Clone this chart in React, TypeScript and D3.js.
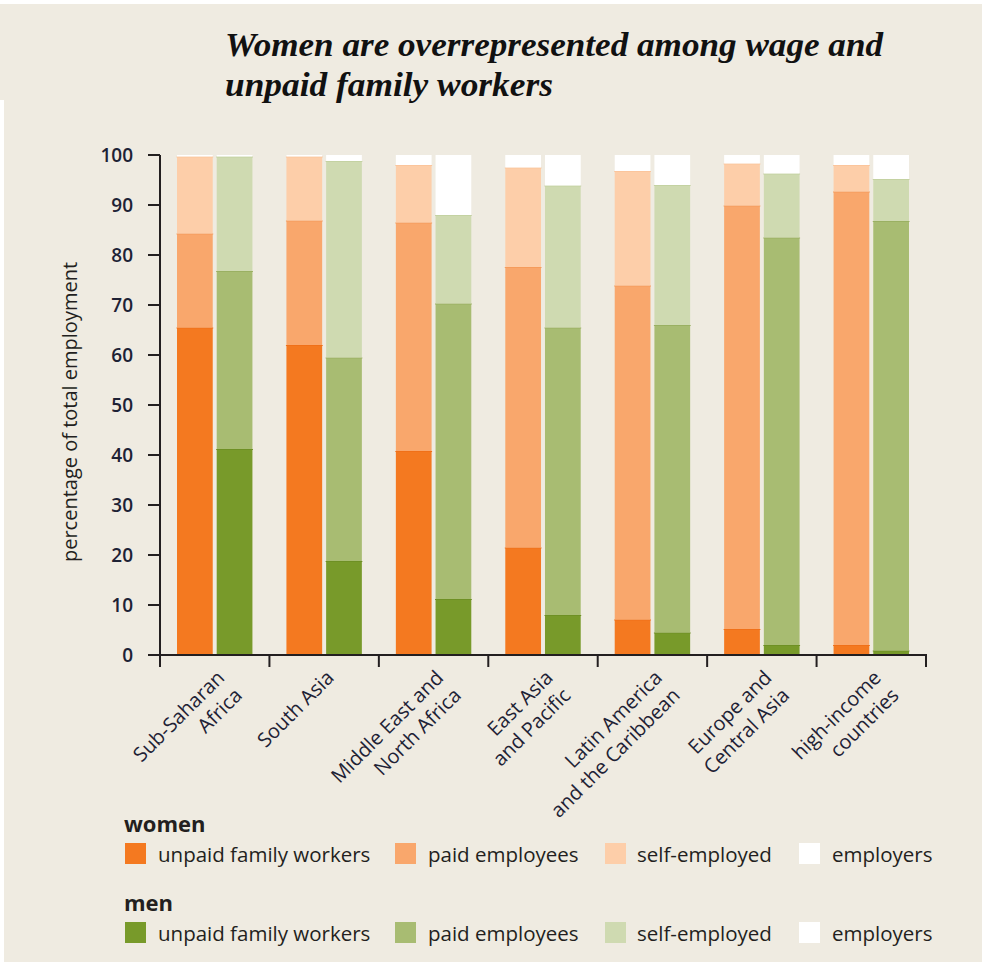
import React from "react";
import * as d3 from "d3";

const categories = [
  ["Sub-Saharan", "Africa"],
  ["South Asia"],
  ["Middle East and", "North Africa"],
  ["East Asia", "and Pacific"],
  ["Latin America", "and the Caribbean"],
  ["Europe and", "Central Asia"],
  ["high-income", "countries"],
];
const keys = ["unpaid", "paid", "self", "employers"];
const keyLabels = ["unpaid family workers", "paid employees", "self-employed", "employers"];

const womenUnpaid = [65.5, 62, 40.8, 21.5, 7.1, 5.2, 2];
const womenPaid = [18.8, 24.9, 45.7, 56.1, 66.8, 84.7, 90.7];
const womenSelf = [15.4, 12.8, 11.5, 19.9, 22.9, 8.4, 5.3];
const womenEmployers = [0.3, 0.3, 2, 2.5, 3.2, 1.7, 2];

const menUnpaid = [41.2, 18.8, 11.2, 8, 4.5, 2, 0.9];
const menPaid = [35.6, 40.7, 59.1, 57.5, 61.5, 81.5, 85.9];
const menSelf = [22.9, 39.3, 17.7, 28.4, 28, 12.8, 8.4];
const menEmployers = [0.3, 1.2, 12, 6.1, 6, 3.7, 4.8];

const yTicks = [0, 10, 20, 30, 40, 50, 60, 70, 80, 90, 100];

const womenColors = ["#F47920", "#F9A76C", "#FDCEA9", "#FFFFFF"];
const menColors = ["#789A2A", "#A8BC72", "#CFDAB1", "#FFFFFF"];
const womenEdge = ["#F07018", "#F59C5C", "#FBC59C", "#FFFFFF"];
const menEdge = ["#6E9024", "#9AB062", "#C4D2A2", "#FFFFFF"];

const BG = "#EFEBE1";
const INK = "#231F20";
const SANS = "'Open Sans', 'Noto Sans', sans-serif";

export default function App() {
  const W = 982, H = 962;
  const y = d3.scaleLinear().domain([0, 100]).range([655, 155]);
  const names = categories.map((c) => c.join(" "));
  const x = d3.scaleBand<string>().domain(names).range([160, 926]).paddingInner(0).paddingOuter(0);
  const bw = x.bandwidth();
  const sub = d3.scaleBand<string>().domain(["women", "men"]).range([17, bw - 17]).paddingInner(0.1);

  const mkRows = (a: number[], b: number[], c: number[], d: number[]) =>
    names.map((n, i) => ({ name: n, unpaid: a[i], paid: b[i], self: c[i], employers: d[i] }));
  const stack = d3.stack<any>().keys(keys);
  const womenStack = stack(mkRows(womenUnpaid, womenPaid, womenSelf, womenEmployers));
  const menStack = stack(mkRows(menUnpaid, menPaid, menSelf, menEmployers));

  const bars: any[] = [];
  const drawStack = (st: any[], which: string, colors: string[], edges: string[]) => {
    st.forEach((layer, li) => {
      layer.forEach((d: any, i: number) => {
        const x0 = (x(names[i]) as number) + (sub(which) as number);
        const y0 = y(d[1]);
        const h = y(d[0]) - y(d[1]);
        bars.push(
          <rect key={`${which}-${li}-${i}`} x={x0} y={y0} width={sub.bandwidth()} height={h} fill={colors[li]} />
        );
        if (li < 3 && d[1] < 99.9) {
          bars.push(
            <line key={`${which}-e-${li}-${i}`} x1={x0 - 0.5} x2={x0 + sub.bandwidth() + 0.5} y1={y0 + 0.5} y2={y0 + 0.5} stroke={edges[li]} strokeWidth={1.2} />
          );
        }
      });
    });
  };
  drawStack(womenStack, "women", womenColors, womenEdge);
  drawStack(menStack, "men", menColors, menEdge);

  const boundaries = [...names.map((n) => x(n) as number), 926];

  const swatchX = [125, 395, 605, 799];
  const textX = [158, 428, 637, 832];
  const legendRow = (label: string, ty: number, colors: string[], rowKey: string) => (
    <g key={rowKey}>
      <text x={124} y={ty} fontFamily={SANS} fontWeight={700} fontSize={22} fill={INK}>{label}</text>
      {keyLabels.map((k, i) => (
        <g key={k}>
          <rect x={swatchX[i]} y={ty + 11} width={21} height={21} fill={colors[i]} />
          <text x={textX[i]} y={ty + 30} fontFamily={SANS} fontSize={20.5} fill={INK}>{k}</text>
        </g>
      ))}
    </g>
  );

  return (
    <svg width={W} height={H} style={{ position: "absolute", left: 0, top: 0 }} xmlns="http://www.w3.org/2000/svg">
      <rect x={0} y={0} width={W} height={H} fill="#FFFFFF" />
      <rect x={0} y={4} width={W} height={96} fill={BG} />
      <rect x={4} y={100} width={W - 4} height={H - 100} fill={BG} />

      <g fontFamily="'Liberation Serif', 'DejaVu Serif', serif" fontStyle="italic" fontWeight={700} fontSize={33} fill="#111">
        <text x={225} y={56} textLength={658} lengthAdjust="spacingAndGlyphs">Women are overrepresented among wage and</text>
        <text x={225} y={96} textLength={328} lengthAdjust="spacingAndGlyphs">unpaid family workers</text>
      </g>

      {bars}

      {/* y axis */}
      <line x1={160} x2={160} y1={155} y2={667} stroke={INK} strokeWidth={2} />
      {yTicks.map((t) => (
        <g key={t}>
          <line x1={148} x2={160} y1={y(t)} y2={y(t)} stroke={INK} strokeWidth={2} />
          <text x={133} y={y(t)} dy="0.35em" textAnchor="end" fontFamily={SANS} fontWeight={600} fontSize={19} fill="#1E2235">{t}</text>
        </g>
      ))}
      <text transform={`translate(77,412) rotate(-90)`} textAnchor="middle" fontFamily={SANS} fontSize={20} fill={INK}>percentage of total employment</text>

      {/* x axis */}
      <line x1={148} x2={927} y1={655} y2={655} stroke={INK} strokeWidth={2} />
      {boundaries.map((b, i) => (
        <line key={i} x1={b} x2={b} y1={655} y2={667} stroke={INK} strokeWidth={2} />
      ))}
      {categories.map((lines, i) => {
        const cx = (x(names[i]) as number) + bw / 2;
        return (
          <text key={i} transform={`translate(${cx + 11},${679}) rotate(-45)`} textAnchor="end" fontFamily={SANS} fontSize={20} fill="#1E2235">
            {lines.map((l, j) => (
              <tspan key={j} x={0} y={j * 25}>{l}</tspan>
            ))}
          </text>
        );
      })}

      {legendRow("women", 832, womenColors, "w")}
      {legendRow("men", 911, menColors, "m")}
    </svg>
  );
}
